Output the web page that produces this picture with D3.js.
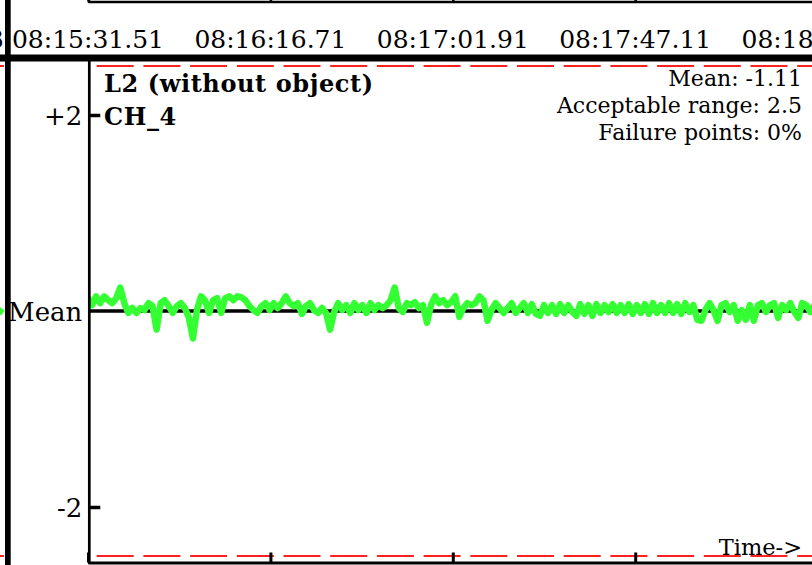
<!DOCTYPE html>
<html><head><meta charset="utf-8">
<script src="https://cdn.jsdelivr.net/npm/d3@7"></script>
<style>html,body{margin:0;padding:0;background:#fff;overflow:hidden}</style>
</head><body>
<svg id="chart" width="812" height="565"></svg>
<script>
// ---------- data ----------
const panelTitle = "L2 (without object)";
const channelName = "CH_4";
const meanValue = -1.11;
const acceptableRange = 2.5;
const failurePercent = 0;
const tickSeconds = [0, 45.2, 90.4, 135.6, 180.8];
const tickLabels = ["08:15:31.51", "08:16:16.71", "08:17:01.91", "08:17:47.11", "08:18:32.31"];
const yTickOffsets = [2, 0, -2];
const yTickLabels = ["+2", "Mean", "-2"];
const sampleIntervalSeconds = 1;
const ch4Values = [
 -0.98,-1.05,-0.96,-1.03,-0.96,-1.00,-1.03,-0.98,-0.87,-1.03,
 -1.13,-1.08,-1.13,-1.08,-1.10,-1.03,-1.06,-1.30,-1.03,-1.00,
 -1.06,-1.13,-1.06,-1.03,-1.08,-1.18,-1.39,-1.10,-0.96,-1.00,
 -1.13,-1.00,-0.98,-1.13,-0.98,-0.96,-1.00,-0.96,-0.97,-1.00,
 -1.06,-1.10,-1.13,-1.06,-1.03,-1.10,-1.03,-1.08,-1.03,-0.96,
 -1.03,-1.06,-1.03,-1.14,-1.06,-1.03,-1.10,-1.13,-1.08,-1.13,
 -1.30,-1.12,-1.03,-1.10,-1.05,-1.13,-1.03,-1.10,-1.05,-1.13,
 -1.03,-1.10,-1.05,-1.08,-1.05,-1.00,-0.87,-1.08,-1.12,-1.03,
 -1.05,-1.02,-1.08,-1.05,-1.23,-1.05,-0.96,-1.03,-1.00,-1.05,
 -1.02,-0.96,-1.17,-1.08,-1.03,-1.05,-1.03,-0.96,-1.00,-1.21,
 -1.10,-1.03,-1.08,-1.13,-1.08,-1.03,-1.13,-1.08,-1.03,-1.13,
 -1.04,-1.14,-1.16,-1.05,-1.13,-1.05,-1.14,-1.04,-1.13,-1.05,
 -1.12,-1.16,-1.04,-1.14,-1.05,-1.16,-1.04,-1.13,-1.05,-1.12,
 -1.04,-1.13,-1.05,-1.13,-1.04,-1.14,-1.05,-1.13,-1.04,-1.14,
 -1.03,-1.13,-1.05,-1.13,-1.03,-1.13,-1.04,-1.14,-1.03,-1.12,
 -1.05,-1.20,-1.21,-1.10,-1.03,-1.10,-1.21,-1.05,-1.03,-1.12,
 -1.05,-1.21,-1.10,-1.20,-1.05,-1.21,-1.05,-1.03,-1.12,-1.05,
 -1.03,-1.18,-1.05,-1.10,-1.03,-1.12,-1.18,-1.03,-1.05,-1.12,
 -1.05
];

// ---------- layout ----------
const W = 812, H = 565;
const plotLeft = 88, plotRight = 812, plotTop = 61, plotBottom = 563;
const serif = "'DejaVu Serif', serif";

const svg = d3.select("#chart");

const x = d3.scaleLinear().domain([0, 180.8]).range([88, 817.6]);
const y = d3.scaleLinear()
  .domain([meanValue - acceptableRange, meanValue + acceptableRange])
  .range([556, 66]);

// clip
svg.append("defs").append("clipPath").attr("id", "plotClip")
  .append("rect").attr("x", plotLeft).attr("y", plotTop)
  .attr("width", plotRight - plotLeft).attr("height", plotBottom - plotTop);

// neighbouring panel remnants (left edge)
svg.append("text").attr("x", 4).attr("y", 48).attr("text-anchor", "end")
  .attr("font-family", serif).attr("font-size", 25).attr("fill", "#000")
  .text(tickLabels[tickLabels.length - 1].slice(0, 10));
[meanValue + acceptableRange, meanValue - acceptableRange].forEach(v => {
  svg.append("line").attr("x1", 0).attr("x2", 4).attr("y1", y(v)).attr("y2", y(v))
    .attr("stroke", "#ff2020").attr("stroke-width", 2);
});
svg.append("line").attr("x1", -4).attr("x2", 3).attr("y1", y(-1.08)).attr("y2", y(-1.13))
  .attr("stroke", "#33ff33").attr("stroke-width", 6);

// upper panel bottom axis (top edge)
const topAxis = d3.axisBottom(x).tickValues(tickSeconds).tickSizeInner(-6).tickSizeOuter(0).tickFormat("");
const ta = svg.append("g").attr("transform", "translate(0,1.5)").call(topAxis);
ta.select(".domain").attr("stroke-width", 2.5).attr("stroke", "#000");
ta.selectAll(".tick line").attr("stroke-width", 2.5).attr("stroke", "#000");
svg.append("line").attr("x1", 89).attr("x2", 89).attr("y1", 0).attr("y2", 3)
  .attr("stroke", "#000").attr("stroke-width", 2.5);

// time labels
svg.append("g").selectAll("text").data(tickSeconds).join("text")
  .attr("x", d => x(d)).attr("y", 48).attr("text-anchor", "middle")
  .attr("font-family", serif).attr("font-size", 25).attr("fill", "#000")
  .text((d, i) => tickLabels[i]);

// thick separators
svg.append("rect").attr("x", 0).attr("y", 54.5).attr("width", W).attr("height", 7).attr("fill", "#000");
svg.append("rect").attr("x", 5).attr("y", 0).attr("width", 5.7).attr("height", H).attr("fill", "#000");

// acceptable range (red dashed)
const g = svg.append("g").attr("clip-path", "url(#plotClip)");
[meanValue + acceptableRange, meanValue - acceptableRange].forEach(v => {
  g.append("line").attr("x1", plotLeft).attr("x2", plotRight)
    .attr("y1", y(v)).attr("y2", y(v))
    .attr("stroke", "#ff2020").attr("stroke-width", 2)
    .attr("stroke-dasharray", "37 9.7").attr("stroke-dashoffset", 38);
});

// mean line
g.append("line").attr("x1", plotLeft).attr("x2", plotRight)
  .attr("y1", y(meanValue)).attr("y2", y(meanValue))
  .attr("stroke", "#000").attr("stroke-width", 3.5);

// series
const line = d3.line()
  .x((d, i) => x(i * sampleIntervalSeconds))
  .y(d => y(d));
g.append("path").datum(ch4Values)
  .attr("d", line).attr("fill", "none")
  .attr("stroke", "#33ff33").attr("stroke-width", 6.5)
  .attr("stroke-linejoin", "round").attr("stroke-linecap", "round");

// bottom axis
const bottomAxis = d3.axisBottom(x).tickValues(tickSeconds).tickSizeInner(-10).tickSizeOuter(0).tickFormat("");
const ba = svg.append("g").attr("transform", "translate(0,562.5)").call(bottomAxis);
ba.select(".domain").attr("stroke-width", 3).attr("stroke", "#000");
ba.selectAll(".tick line").attr("stroke-width", 3).attr("stroke", "#000");

// y axis
const yAxis = d3.axisLeft(y)
  .tickValues(yTickOffsets.map(o => meanValue + o))
  .tickSizeInner(-11).tickSizeOuter(0).tickPadding(7)
  .tickFormat((d, i) => yTickLabels[i]);
const ya = svg.append("g").attr("transform", "translate(89.3,0)").call(yAxis);
ya.select(".domain").remove();
ya.selectAll(".tick line").attr("stroke-width", 3.5).attr("stroke", "#000")
  .attr("opacity", (d, i) => yTickOffsets[i] === 0 ? 0 : 1);
ya.selectAll(".tick text").attr("font-family", serif).attr("font-size", 26)
  .attr("fill", "#000").attr("dy", "0.36em");
svg.append("line").attr("x1", 89.3).attr("x2", 89.3).attr("y1", plotTop).attr("y2", 564)
  .attr("stroke", "#000").attr("stroke-width", 2.7);

// titles
svg.append("text").attr("x", 104).attr("y", 92)
  .attr("font-family", serif).attr("font-weight", "bold").attr("font-size", 24)
  .attr("letter-spacing", 0.6).attr("fill", "#000").text(panelTitle);
svg.append("text").attr("x", 104).attr("y", 125)
  .attr("font-family", serif).attr("font-weight", "bold").attr("font-size", 24)
  .attr("letter-spacing", 0.6).attr("fill", "#000").text(channelName);

// stats
const stats = [
  "Mean: " + meanValue.toFixed(2),
  "Acceptable range: " + acceptableRange,
  "Failure points: " + failurePercent + "%"
];
svg.append("g").selectAll("text").data(stats).join("text")
  .attr("x", 802).attr("y", (d, i) => 86 + i * 27).attr("text-anchor", "end")
  .attr("font-family", serif).attr("font-size", 22).attr("fill", "#000")
  .text(d => d);

// axis caption
svg.append("text").attr("x", 802).attr("y", 555).attr("text-anchor", "end")
  .attr("font-family", serif).attr("font-size", 22.5).attr("fill", "#000")
  .text("Time->");
</script>
</body></html>
